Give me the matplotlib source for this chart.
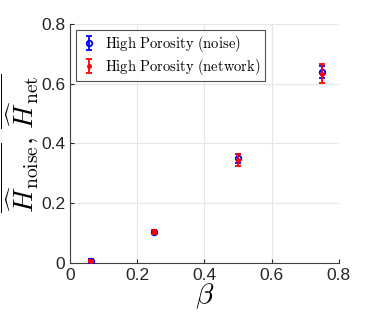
import matplotlib
matplotlib.use("Agg")
import matplotlib.pyplot as plt

plt.rcParams['mathtext.fontset'] = 'cm'
plt.rcParams['font.family'] = ['Liberation Sans', 'DejaVu Sans']

beta = [0.0625, 0.25, 0.5, 0.75]
h_noise = [0.008, 0.105, 0.350, 0.638]
err_noise = [0.004, 0.006, 0.015, 0.020]
h_net = [0.006, 0.103, 0.346, 0.634]
err_net = [0.004, 0.006, 0.020, 0.033]

xticks = [0, 0.2, 0.4, 0.6, 0.8]
yticks = [0, 0.2, 0.4, 0.6, 0.8]
xtick_labels = ['0', '0.2', '0.4', '0.6', '0.8']
ytick_labels = ['0', '0.2', '0.4', '0.6', '0.8']

fig = plt.figure(figsize=(3.74, 3.32), dpi=100)
ax = fig.add_axes([0.187, 0.208, 0.719, 0.72])

ax.errorbar(beta, h_noise, yerr=err_noise, fmt='o', color='blue', mfc='none',
            mew=1.3, ms=4, elinewidth=1.3, capsize=2.5, capthick=1.3,
            label=r'$\mathrm{High\ Porosity\ (noise)}$', zorder=3)
ax.errorbar(beta, h_net, yerr=err_net, fmt='.', color='red',
            ms=5, elinewidth=1.3, capsize=2.5, capthick=1.3,
            label=r'$\mathrm{High\ Porosity\ (network)}$', zorder=4)

ax.set_xlim(0, 0.8)
ax.set_ylim(0, 0.8)
ax.set_xticks(xticks)
ax.set_xticklabels(xtick_labels)
ax.set_yticks(yticks)
ax.set_yticklabels(ytick_labels)
ax.tick_params(direction='in', length=3, labelsize=12.5, colors='#262626', width=0.8)
ax.grid(True, color='#e6e6e6', linewidth=0.8)
ax.set_axisbelow(True)
for s in ['top', 'right']:
    ax.spines[s].set_visible(False)
for s in ['left', 'bottom']:
    ax.spines[s].set_color('#404040')
    ax.spines[s].set_linewidth(0.8)

ax.set_xlabel(r'$\beta$', fontsize=21, labelpad=-1)
ax.set_ylabel(r'$\overline{\widehat{H}_{\mathrm{noise}}},\,\overline{\widehat{H}_{\mathrm{net}}}$',
              fontsize=20, labelpad=0)

leg = ax.legend(loc='upper left', fontsize=10.5, frameon=True, fancybox=False,
                edgecolor='#262626', handletextpad=0.5, borderaxespad=0.4,
                handlelength=1.2, labelspacing=0.2, borderpad=0.3)
leg.get_frame().set_linewidth(0.8)

fig.savefig('out.png', dpi=100)
